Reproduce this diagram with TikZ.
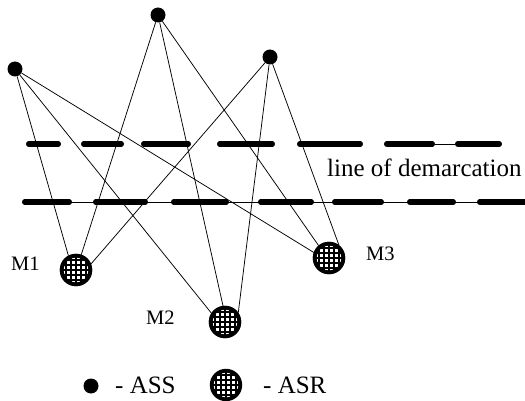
\documentclass[tikz,border=0pt]{standalone}
\usepackage{fontspec}
\setmainfont{Liberation Serif}
\begin{document}
\begin{tikzpicture}[x=1pt,y=-1pt,
  ass/.style={circle,fill=black,inner sep=0pt,minimum size=15pt},
  asr/.style={circle,draw=black,line width=3.8pt,fill=white,inner sep=0pt,minimum size=28.6pt,
    path picture={
      \foreach \d in {-10,-5,0,5,10}{
        \draw[line width=1.9pt] ([xshift=\d pt,yshift=-20pt]path picture bounding box.center) -- ([xshift=\d pt,yshift=20pt]path picture bounding box.center);
        \draw[line width=1.9pt] ([yshift=\d pt,xshift=-20pt]path picture bounding box.center) -- ([yshift=\d pt,xshift=20pt]path picture bounding box.center);
      }}},
  conn/.style={line width=0.75pt},
  bar/.style={line width=5.5pt,line cap=round},
  thinline/.style={line width=0.8pt},
  lab/.style={font=\fontsize{20.5}{24}\selectfont,inner sep=0pt},
  big/.style={font=\fontsize{25}{28}\selectfont,inner sep=0pt}]
\useasboundingbox (0,0) rectangle (525,401);

% demarcation lines
\coordinate (u1) at (435,144); \coordinate (u2) at (455,144);
\draw[thinline] (u1) -- (u2);
\foreach \a/\b in {26/61,81/124,141/191,217/275,297/363,384/435,455/502}{
  \draw[bar] (\a+2.75,144) -- (\b-2.75,144);}
\coordinate (l1) at (22,202); \coordinate (l2) at (525,202);
\draw[thinline] (l1) -- (l2);
\foreach \a/\b in {22/72,93/148,171/229,258/314,332/384,407/456,477/532}{
  \draw[bar] (\a+2.75,202) -- (\b-2.75,202);}

\node[big,anchor=base west] (dem) at (327,176) {line of demarcation};

% ASS nodes
\node[ass] (A) at (15,69) {};
\node[ass] (B) at (158,15) {};
\node[ass] (C) at (270,57) {};

% ASR nodes
\node[asr] (M1) at (76,270) {};
\node[asr] (M2) at (225,322) {};
\node[asr] (M3) at (329,258) {};

% connectors
\draw[conn] (A) -- (M1.118);
\draw[conn] (A) -- (M2.147);
\draw[conn] (A) -- (M3.160);
\draw[conn] (B) -- (M1.71);
\draw[conn] (B) -- (M2.97);
\draw[conn] (B) -- (M3.130);
\draw[conn] (C) -- (M1.22);
\draw[conn] (C) -- (M2.35);
\draw[conn] (C) -- (M3.52);

% redraw circles on top
\node[asr] at (76,270) {};
\node[asr] at (225,322) {};
\node[asr] at (329,258) {};

% labels
\node[lab,anchor=base west] (t1) at (11,270) {M1};
\node[lab,anchor=base west] (t2) at (146,324) {M2};
\node[lab,anchor=base west] (t3) at (366,260) {M3};

% legend
\node[ass] (L1) at (91,386) {};
\node[big,anchor=base west] (L1t) at (115,393) {- ASS};
\node[asr] (L2) at (226,385) {};
\node[big,anchor=base west] (L2t) at (263,393) {- ASR};
\end{tikzpicture}
\end{document}
